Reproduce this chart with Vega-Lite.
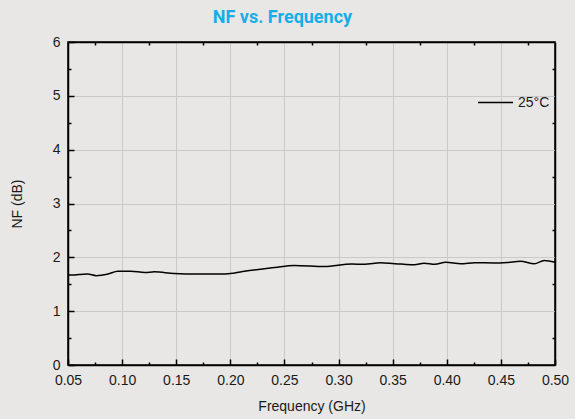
{
  "$schema": "https://vega.github.io/schema/vega-lite/v6.json",
  "width": 487,
  "height": 323,
  "autosize": "none",
  "padding": {"left": 68, "top": 42, "right": 20, "bottom": 54},
  "background": "#e8e7e5",
  "title": {
    "text": "NF vs. Frequency",
    "font": "Roboto",
    "fontSize": 18,
    "fontWeight": "bold",
    "color": "#17aee8",
    "anchor": "middle",
    "frame": "bounds",
    "offset": 8,
    "dx": -7
  },
  "config": {
    "view": {"stroke": "#000000", "strokeWidth": 1.5, "fill": "#e8e7e5"},
    "axis": {
      "labelFont": "Liberation Sans",
      "labelFontSize": 14,
      "labelColor": "#1a1a1a",
      "titleFont": "Liberation Sans",
      "titleFontSize": 14,
      "titleFontWeight": "normal",
      "titleColor": "#1a1a1a",
      "domainColor": "#000000",
      "domainWidth": 1.5,
      "tickColor": "#000000",
      "tickWidth": 1.5,
      "gridColor": "#c9c9c9",
      "gridWidth": 1
    }
  },
  "data": {
    "values": [
      {"freq": 0.050, "nf": 1.67, "series": "25°C"},
      {"freq": 0.055, "nf": 1.67, "series": "25°C"},
      {"freq": 0.060, "nf": 1.68, "series": "25°C"},
      {"freq": 0.068, "nf": 1.69, "series": "25°C"},
      {"freq": 0.076, "nf": 1.66, "series": "25°C"},
      {"freq": 0.087, "nf": 1.69, "series": "25°C"},
      {"freq": 0.096, "nf": 1.74, "series": "25°C"},
      {"freq": 0.108, "nf": 1.74, "series": "25°C"},
      {"freq": 0.121, "nf": 1.72, "series": "25°C"},
      {"freq": 0.130, "nf": 1.73, "series": "25°C"},
      {"freq": 0.148, "nf": 1.70, "series": "25°C"},
      {"freq": 0.170, "nf": 1.69, "series": "25°C"},
      {"freq": 0.195, "nf": 1.69, "series": "25°C"},
      {"freq": 0.204, "nf": 1.71, "series": "25°C"},
      {"freq": 0.213, "nf": 1.74, "series": "25°C"},
      {"freq": 0.241, "nf": 1.81, "series": "25°C"},
      {"freq": 0.259, "nf": 1.85, "series": "25°C"},
      {"freq": 0.287, "nf": 1.83, "series": "25°C"},
      {"freq": 0.312, "nf": 1.875, "series": "25°C"},
      {"freq": 0.324, "nf": 1.87, "series": "25°C"},
      {"freq": 0.339, "nf": 1.90, "series": "25°C"},
      {"freq": 0.352, "nf": 1.88, "series": "25°C"},
      {"freq": 0.358, "nf": 1.875, "series": "25°C"},
      {"freq": 0.370, "nf": 1.86, "series": "25°C"},
      {"freq": 0.379, "nf": 1.89, "series": "25°C"},
      {"freq": 0.389, "nf": 1.87, "series": "25°C"},
      {"freq": 0.399, "nf": 1.91, "series": "25°C"},
      {"freq": 0.413, "nf": 1.88, "series": "25°C"},
      {"freq": 0.426, "nf": 1.90, "series": "25°C"},
      {"freq": 0.444, "nf": 1.895, "series": "25°C"},
      {"freq": 0.456, "nf": 1.905, "series": "25°C"},
      {"freq": 0.468, "nf": 1.925, "series": "25°C"},
      {"freq": 0.481, "nf": 1.88, "series": "25°C"},
      {"freq": 0.490, "nf": 1.94, "series": "25°C"},
      {"freq": 0.500, "nf": 1.91, "series": "25°C"}
    ]
  },
  "layer": [
    {
      "mark": {"type": "line", "strokeWidth": 1.5, "interpolate": "monotone"},
      "encoding": {
        "x": {
          "field": "freq", "type": "quantitative",
          "scale": {"domain": [0.05, 0.5], "nice": false, "zero": false},
          "axis": {
            "orient": "bottom",
            "title": "Frequency (GHz)",
            "titlePadding": 12,
            "values": [0.05, 0.1, 0.15, 0.2, 0.25, 0.3, 0.35, 0.4, 0.45, 0.5],
            "format": ".2f",
            "grid": true,
            "tickSize": -6,
            "labelPadding": 14,
            "labelFlush": false
          }
        },
        "y": {
          "field": "nf", "type": "quantitative",
          "scale": {"domain": [0, 6], "nice": false},
          "axis": {
            "orient": "left",
            "title": "NF (dB)",
            "titlePadding": 28,
            "values": [0, 1, 2, 3, 4, 5, 6],
            "grid": true,
            "tickSize": -6,
            "labelPadding": 14,
            "labelFlush": false
          }
        },
        "color": {
          "field": "series", "type": "nominal",
          "scale": {"range": ["#000000"]},
          "legend": {
            "title": null,
            "orient": "none",
            "legendX": 409,
            "legendY": 42,
            "symbolType": "stroke",
            "symbolSize": 1225,
            "symbolStrokeWidth": 1.5,
            "labelFont": "Liberation Sans",
            "labelFontSize": 14,
            "labelColor": "#1a1a1a",
            "labelOffset": 4,
            "padding": 0
          }
        }
      }
    },
    {
      "mark": {"type": "line", "opacity": 0},
      "encoding": {
        "x": {
          "field": "freq", "type": "quantitative",
          "axis": {
            "orient": "bottom", "title": null, "labels": false, "domain": false, "grid": false,
            "values": [0.075, 0.125, 0.175, 0.225, 0.275, 0.325, 0.375, 0.425, 0.475],
            "tickSize": -3
          }
        },
        "y": {
          "field": "nf", "type": "quantitative",
          "axis": {
            "orient": "left", "title": null, "labels": false, "domain": false, "grid": false,
            "values": [0.5, 1.5, 2.5, 3.5, 4.5, 5.5],
            "tickSize": -3
          }
        }
      }
    },
    {
      "mark": {"type": "line", "opacity": 0},
      "encoding": {
        "x": {
          "field": "freq", "type": "quantitative",
          "axis": {
            "orient": "top", "title": null, "labels": false, "grid": false,
            "values": [0.075, 0.125, 0.175, 0.225, 0.275, 0.325, 0.375, 0.425, 0.475],
            "tickSize": -3
          }
        },
        "y": {
          "field": "nf", "type": "quantitative",
          "axis": {
            "orient": "right", "title": null, "labels": false, "grid": false,
            "values": [0.5, 1.5, 2.5, 3.5, 4.5, 5.5],
            "tickSize": -3
          }
        }
      }
    }
  ],
  "resolve": {"axis": {"x": "independent", "y": "independent"}}
}
